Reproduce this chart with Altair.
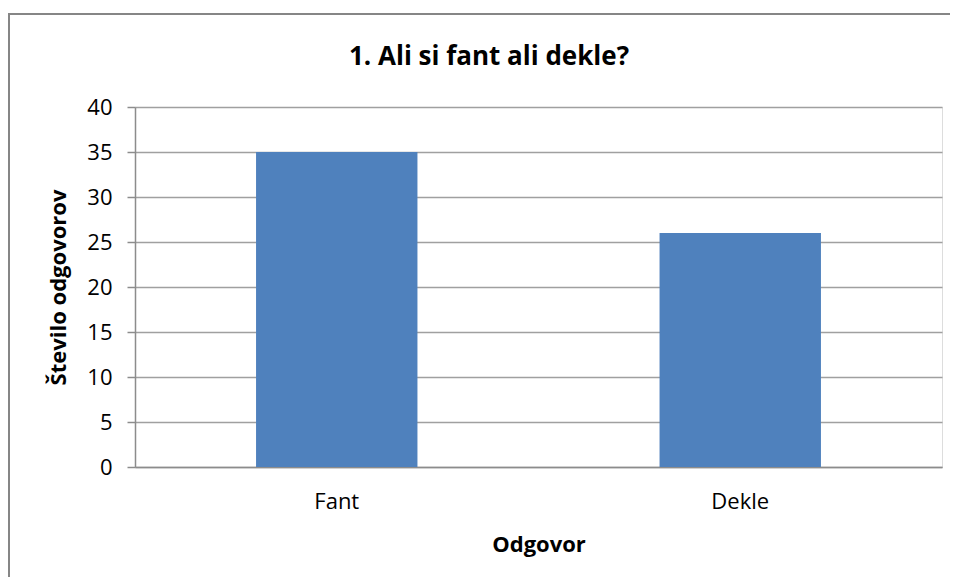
import altair as alt
import pandas as pd

title_text = "1. Ali si fant ali dekle?"
categories = ["Fant", "Dekle"]
values = [35, 26]
y_ticks = [0, 5, 10, 15, 20, 25, 30, 35, 40]

df = pd.DataFrame({"Odgovor": categories, "Stevilo": values})

FONT = "Open Sans"
GRAY = "#8c8c8c"

bars = alt.Chart(df).mark_bar(color="#4f81bd").encode(
    x=alt.X(
        "Odgovor:N",
        sort=categories,
        scale=alt.Scale(paddingInner=0.6, paddingOuter=0.3),
        axis=alt.Axis(
            title="Odgovor",
            labelAngle=0,
            labelFont=FONT,
            labelFontSize=22,
            labelColor="#000000",
            labelBaseline="alphabetic",
            labelPadding=41,
            ticks=False,
            tickSize=0,
            domainColor=GRAY,
            domainWidth=1.5,
            grid=False,
            titleFont=FONT,
            titleFontSize=22,
            titleFontWeight="bold",
            titleColor="#000000",
            titleBaseline="alphabetic",
            titleY=84,
        ),
    ),
    y=alt.Y(
        "Stevilo:Q",
        scale=alt.Scale(domain=[0, 40], nice=False),
        axis=alt.Axis(
            title="Število odgovorov",
            values=y_ticks,
            labelFont=FONT,
            labelFontSize=22,
            labelColor="#000000",
            labelPadding=15,
            tickSize=8,
            tickColor=GRAY,
            tickWidth=1.5,
            domainColor=GRAY,
            domainWidth=1.5,
            grid=True,
            gridColor="#a0a0a0",
            gridWidth=1.5,
            titleFont=FONT,
            titleFontSize=22,
            titleFontWeight="bold",
            titleColor="#000000",
            titleBaseline="alphabetic",
            titleAngle=-90,
            titleX=-70,
            titleY=180,
        ),
    ),
)

one_row = pd.DataFrame({"a": [0]})

border_top = alt.Chart(one_row).mark_rule(color="#868686", strokeWidth=2).encode(
    x=alt.value(-127), x2=alt.value(815), y=alt.value(-93)
)
border_left = alt.Chart(one_row).mark_rule(color="#868686", strokeWidth=2).encode(
    x=alt.value(-126), y=alt.value(-94), y2=alt.value(470)
)

title = alt.Chart(one_row).mark_text(
    font=FONT, fontSize=26, fontWeight="bold", color="#000000",
    align="center", baseline="alphabetic",
).encode(
    x=alt.value(354), y=alt.value(-42), text=alt.value(title_text)
)

chart = alt.layer(border_top, border_left, bars, title).properties(
    width=807,
    height=360,
    padding={"left": 127, "top": 99, "right": 8, "bottom": 110},
    autosize=alt.AutoSizeParams(type="none"),
).configure_view(stroke=None).configure(background="white")

chart.save("out.html", embed_options={"renderer": "svg", "actions": False})
